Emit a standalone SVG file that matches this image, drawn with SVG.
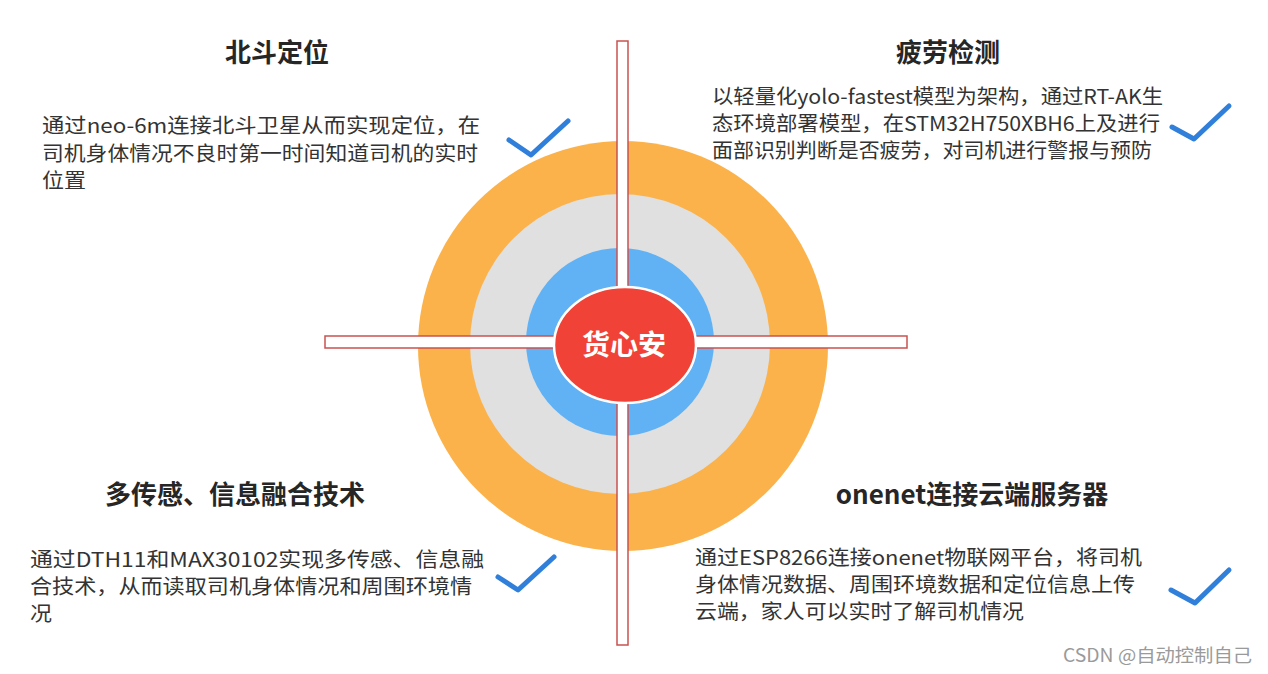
<svg xmlns="http://www.w3.org/2000/svg" width="1268" height="674" viewBox="0 0 1268 674">
<style>
text{font-family:"Noto Sans CJK SC","Noto Sans",sans-serif}
.title{font-size:26px;font-weight:bold;fill:#262626;text-anchor:middle}
.body{font-size:20px;fill:#333333}
.check{fill:none;stroke:#2F7FDB;stroke-width:5;stroke-linecap:round;stroke-linejoin:round}
.bar{fill:#ffffff;stroke:#C9524F;stroke-width:1.5}
</style>
<rect width="1268" height="674" fill="#ffffff"/>
<g id="rings">
<circle cx="623" cy="346" r="205" fill="#FBB24B"/>
<circle cx="620" cy="344" r="150" fill="#E0E0E0"/>
<circle cx="620" cy="342" r="94" fill="#60B2F5"/>
</g>
<g id="connectors">
<rect class="bar" x="617" y="41" width="11" height="604"/>
<rect class="bar" x="325" y="336" width="582" height="12"/>
</g>
<g id="center">
<ellipse cx="625" cy="345" rx="71" ry="58" fill="#F04236" stroke="#ffffff" stroke-width="2.5"/>
<text x="624" y="355" font-size="28" font-weight="bold" fill="#ffffff" text-anchor="middle">货心安</text>
</g>
<g id="beidou">
<text class="title" x="277" y="62">北斗定位</text>
<text class="body" x="42" y="133" textLength="438" lengthAdjust="spacingAndGlyphs">通过neo-6m连接北斗卫星从而实现定位，在</text>
<text class="body" x="42" y="161" textLength="436" lengthAdjust="spacingAndGlyphs">司机身体情况不良时第一时间知道司机的实时</text>
<text class="body" x="42" y="188" textLength="44" lengthAdjust="spacingAndGlyphs">位置</text>
<polyline class="check" points="509,140 531,155 568,121"/>
</g>
<g id="fatigue">
<text class="title" x="948" y="62">疲劳检测</text>
<text class="body" x="712" y="104" textLength="451" lengthAdjust="spacingAndGlyphs">以轻量化yolo-fastest模型为架构，通过RT-AK生</text>
<text class="body" x="712" y="131" textLength="448" lengthAdjust="spacingAndGlyphs">态环境部署模型，在STM32H750XBH6上及进行</text>
<text class="body" x="712" y="158" textLength="440" lengthAdjust="spacingAndGlyphs">面部识别判断是否疲劳，对司机进行警报与预防</text>
<polyline class="check" points="1172,127 1194,139 1229,106"/>
</g>
<g id="sensor">
<text class="title" x="235" y="504">多传感、信息融合技术</text>
<text class="body" x="30" y="567" textLength="454" lengthAdjust="spacingAndGlyphs">通过DTH11和MAX30102实现多传感、信息融</text>
<text class="body" x="30" y="594" textLength="442" lengthAdjust="spacingAndGlyphs">合技术，从而读取司机身体情况和周围环境情</text>
<text class="body" x="30" y="621" textLength="22" lengthAdjust="spacingAndGlyphs">况</text>
<polyline class="check" points="498,577 518,590 554,557"/>
</g>
<g id="onenet">
<text class="title" x="972" y="504">onenet连接云端服务器</text>
<text class="body" x="695" y="565" textLength="447" lengthAdjust="spacingAndGlyphs">通过ESP8266连接onenet物联网平台，将司机</text>
<text class="body" x="695" y="592" textLength="440" lengthAdjust="spacingAndGlyphs">身体情况数据、周围环境数据和定位信息上传</text>
<text class="body" x="695" y="619" textLength="329" lengthAdjust="spacingAndGlyphs">云端，家人可以实时了解司机情况</text>
<polyline class="check" points="1171,590 1195,603 1229,570"/>
</g>
<text x="1063" y="662" font-size="18" fill="#9a9a9a" textLength="189" lengthAdjust="spacingAndGlyphs" font-family="Liberation Sans,Noto Sans CJK SC,sans-serif">CSDN @自动控制自己</text>
</svg>
